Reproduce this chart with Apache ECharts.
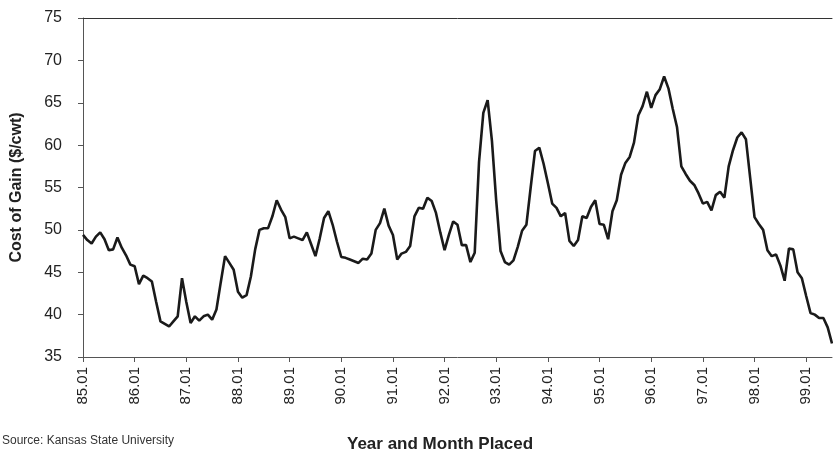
<!DOCTYPE html>
<html>
<head>
<meta charset="UTF-8">
<title>Cost of Gain</title>
<script type="text/javascript" src="https://cdn.jsdelivr.net/npm/echarts@6/dist/echarts.min.js"></script>
<style>
html, body { margin: 0; padding: 0; background: #fff; }
</style>
</head>
<body>
<div id="box" style="width: 833px; height: 455px;"></div>

<script type="text/javascript">
// monthly cost of gain, $/cwt, by year placed
var y85 = [49.4, 48.8, 48.4, 49.2, 49.7, 48.9, 47.6, 47.7, 49.1, 47.9, 47.0, 45.9];
var y86 = [45.7, 43.6, 44.6, 44.3, 43.9, 41.5, 39.2, 38.9, 38.6, 39.2, 39.8, 44.3];
var y87 = [41.5, 39.0, 39.8, 39.3, 39.8, 40.0, 39.4, 40.6, 43.8, 46.9, 46.1, 45.3];
var y88 = [42.7, 42.0, 42.3, 44.5, 47.7, 50.0, 50.2, 50.2, 51.6, 53.5, 52.4, 51.5];
var y89 = [49.0, 49.2, 49.0, 48.8, 49.7, 48.3, 46.9, 49.0, 51.4, 52.2, 50.6, 48.6];
var y90 = [46.8, 46.7, 46.5, 46.3, 46.1, 46.6, 46.5, 47.2, 50.0, 50.8, 52.5, 50.5];
var y91 = [49.4, 46.5, 47.2, 47.4, 48.1, 51.6, 52.6, 52.5, 53.8, 53.4, 52.0, 49.7];
var y92 = [47.6, 49.4, 51.0, 50.6, 48.2, 48.2, 46.2, 47.3, 58.0, 63.8, 65.3, 60.5];
var y93 = [53.4, 47.5, 46.2, 45.9, 46.4, 48.0, 49.9, 50.6, 55.0, 59.3, 59.7, 57.8];
var y94 = [55.5, 53.1, 52.6, 51.6, 52.0, 48.7, 48.1, 48.8, 51.6, 51.4, 52.7, 53.5];
var y95 = [50.7, 50.6, 48.9, 52.2, 53.5, 56.5, 57.9, 58.6, 60.3, 63.5, 64.6, 66.3];
var y96 = [64.4, 65.9, 66.6, 68.1, 66.7, 64.3, 62.1, 57.5, 56.6, 55.8, 55.3, 54.3];
var y97 = [53.1, 53.3, 52.3, 54.1, 54.5, 53.8, 57.5, 59.4, 60.9, 61.5, 60.7, 56.1];
var y98 = [51.5, 50.7, 50.0, 47.6, 46.9, 47.1, 45.8, 44.0, 47.8, 47.7, 45.0, 44.3];
var y99 = [42.2, 40.2, 40.0, 39.6, 39.6, 38.5, 36.6];

var years = ['85', '86', '87', '88', '89', '90', '91', '92', '93', '94', '95', '96', '97', '98', '99'];
var byYear = [y85, y86, y87, y88, y89, y90, y91, y92, y93, y94, y95, y96, y97, y98, y99];

var months = []; // category labels like 85.01
var values = [];
for (var i = 0; i < byYear.length; i++) {
	for (var m = 0; m < byYear[i].length; m++) {
		months.push(years[i] + '.' + (m < 9 ? '0' : '') + (m + 1));
		values.push(byYear[i][m]);
	}
}

var myChart = echarts.init(document.getElementById('box'));
var font = 'Arial, "Liberation Sans", sans-serif';

myChart.setOption({
	animation : false,
	textStyle : { fontFamily : font },
	grid : { left : 83, right : 1, top : 18, bottom : 98 },
	xAxis : [ {
		type : 'category',
		data : months,
		boundaryGap : false,
		axisLine : { lineStyle : { color : '#555', width : 1 } },
		axisTick : {
			length : 5,
			lineStyle : { color : '#555' },
			interval : function (idx) { return idx % 12 === 0; }
		},
		axisLabel : {
			rotate : 90,
			margin : 10,
			color : '#222',
			fontSize : 15,
			fontFamily : font,
			interval : function (idx) { return idx % 12 === 0; }
		},
		splitLine : { show : false }
	}, {
		// top frame line only
		type : 'category',
		position : 'top',
		data : months,
		boundaryGap : false,
		axisLine : { lineStyle : { color : '#333', width : 1 } },
		axisTick : { show : false },
		axisLabel : { show : false }
	} ],
	yAxis : {
		type : 'value',
		min : 35,
		max : 75,
		interval : 5,
		name : 'Cost of Gain ($/cwt)',
		nameLocation : 'middle',
		nameGap : 58,
		nameTextStyle : { fontSize : 16, fontWeight : 'bold', color : '#222', fontFamily : font },
		axisLine : { show : true, lineStyle : { color : '#555', width : 1 } },
		axisTick : { show : true, length : 5, lineStyle : { color : '#555' } },
		axisLabel : { margin : 21, color : '#222', fontSize : 16, fontFamily : font },
		splitLine : { show : false }
	},
	graphic : [ {
		type : 'text',
		left : 2,
		top : 435,
		style : { text : 'Source: Kansas State University', fill : '#333', font : '12px ' + font }
	}, {
		type : 'text',
		left : 347,
		top : 436,
		style : { text : 'Year and Month Placed', fill : '#222', font : 'bold 17px ' + font }
	} ],
	series : [ {
		name : 'Cost of Gain',
		type : 'line',
		data : values,
		symbol : 'none',
		lineStyle : { color : '#1a1a1a', width : 2.6 }
	} ]
});
</script>

</body>
</html>
